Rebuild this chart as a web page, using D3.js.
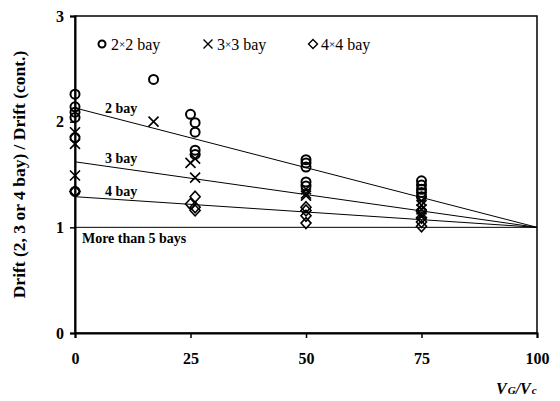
<!DOCTYPE html>
<html>
<head>
<meta charset="utf-8">
<script src="https://cdn.jsdelivr.net/npm/d3@7"></script>
<style>
  body { margin: 0; background: #fff; }
  text { font-family: "Liberation Serif", "Times New Roman", serif; }
</style>
</head>
<body>
<div id="chart"></div>
<script>
// set the dimensions and margins of the graph
const width = 560,
  height = 401,
  margin = { top: 16, right: 23, bottom: 68, left: 75 };

// data: [Vg/Vc, drift ratio]
const bay2 = [
  [0, 2.26], [0, 2.14], [0, 2.09], [0, 2.04], [0, 1.85], [0, 1.34],
  [17, 2.40],
  [25, 2.07], [26, 1.99], [26, 1.90], [26, 1.73], [26, 1.69],
  [50, 1.64], [50, 1.61], [50, 1.57], [50, 1.43], [50, 1.39],
  [75, 1.44], [75, 1.40], [75, 1.36], [75, 1.33], [75, 1.29]
];
const bay3 = [
  [0, 1.90], [0, 1.79], [0, 1.49],
  [17, 2.00],
  [25, 1.61], [26, 1.65], [26, 1.47],
  [50, 1.36], [50, 1.32], [50, 1.30],
  [75, 1.25], [75, 1.21], [75, 1.17], [75, 1.12]
];
const bay4 = [
  [0, 1.34],
  [25, 1.22], [26, 1.29], [26, 1.19], [26, 1.16],
  [50, 1.19], [50, 1.16], [50, 1.11], [50, 1.04],
  [75, 1.15], [75, 1.09], [75, 1.05], [75, 1.01]
];

// fitted lines: value at 0 and at 100
const fitLabels = ["2 bay", "3 bay", "4 bay", "More than 5 bays"];
const fitStart = [2.13, 1.62, 1.29, 1.0];
const fitEnd = [1.0, 1.0, 1.0, 1.0];

const xTicks = [0, 25, 50, 75, 100];
const yTicks = [0, 1, 2, 3];

const svg = d3.select("#chart")
  .append("svg")
  .attr("width", width)
  .attr("height", height);

const x = d3.scaleLinear().domain([0, 100]).range([margin.left, width - margin.right]);
const y = d3.scaleLinear().domain([0, 3]).range([height - margin.bottom, margin.top]);

// frame
svg.append("rect")
  .attr("x", x(0))
  .attr("y", y(3))
  .attr("width", x(100) - x(0))
  .attr("height", y(0) - y(3))
  .attr("fill", "none")
  .attr("stroke", "black")
  .attr("stroke-width", 1.5);

// axes
const xAxis = svg.append("g")
  .attr("transform", `translate(0,${y(0)})`)
  .call(d3.axisBottom(x).tickValues(xTicks).tickFormat(d3.format("d")).tickSize(5).tickPadding(15));
const yAxis = svg.append("g")
  .attr("transform", `translate(${x(0)},0)`)
  .call(d3.axisLeft(y).tickValues(yTicks).tickFormat(d3.format("d")).tickSize(5).tickPadding(6));

[xAxis, yAxis].forEach(g => {
  g.select(".domain").attr("stroke-width", 2);
  g.selectAll(".tick line").attr("stroke-width", 1.5);
  g.selectAll("text")
    .style("font-family", "'Liberation Serif', serif")
    .style("font-size", "16px")
    .style("font-weight", "bold")
    .attr("fill", "black");
});

// fitted lines
const fits = fitLabels.map((l, i) => ({ label: l, a: fitStart[i], b: fitEnd[i] }));
const fitAt = (d, v) => d.a + (d.b - d.a) * v / 100;
svg.selectAll("line.fit")
  .data(fits)
  .join("line")
  .attr("class", "fit")
  .attr("x1", x(0))
  .attr("y1", d => y(d.a))
  .attr("x2", x(100))
  .attr("y2", d => y(d.b))
  .attr("stroke", "black")
  .attr("stroke-width", 1);

svg.selectAll("text.fitlabel")
  .data(fits)
  .join("text")
  .attr("class", "fitlabel")
  .attr("x", (d, i) => i === 3 ? x(1.5) : x(6.5))
  .attr("y", (d, i) => i === 3 ? y(d.a) + 16 : y(fitAt(d, 6.5)) - 3)
  .text(d => d.label)
  .style("font-size", "14px")
  .style("font-weight", "bold");

// markers
svg.selectAll("circle.b2")
  .data(bay2)
  .join("circle")
  .attr("class", "b2")
  .attr("cx", d => x(d[0]))
  .attr("cy", d => y(d[1]))
  .attr("r", 4.5)
  .attr("fill", "none")
  .attr("stroke", "black")
  .attr("stroke-width", 2);

svg.selectAll("path.b3")
  .data(bay3)
  .join("path")
  .attr("class", "b3")
  .attr("transform", d => `translate(${x(d[0])},${y(d[1])})`)
  .attr("d", "M-5,-5L5,5M-5,5L5,-5")
  .attr("fill", "none")
  .attr("stroke", "black")
  .attr("stroke-width", 1.6);

svg.selectAll("path.b4")
  .data(bay4)
  .join("path")
  .attr("class", "b4")
  .attr("transform", d => `translate(${x(d[0])},${y(d[1])})`)
  .attr("d", "M0,-5.5L5,0L0,5.5L-5,0Z")
  .attr("fill", "none")
  .attr("stroke", "black")
  .attr("stroke-width", 1.6);

// legend
const legend = svg.append("g").attr("transform", `translate(0,${y(3) + 28})`);
legend.append("circle").attr("cx", 102).attr("cy", 0).attr("r", 3.5)
  .attr("fill", "none").attr("stroke", "black").attr("stroke-width", 2);
legend.append("path").attr("transform", "translate(208,0)")
  .attr("d", "M-4.5,-4.5L4.5,4.5M-4.5,4.5L4.5,-4.5")
  .attr("stroke", "black").attr("stroke-width", 1.4);
legend.append("path").attr("transform", "translate(313,0)")
  .attr("d", "M0,-4.5L4.5,0L0,4.5L-4.5,0Z")
  .attr("fill", "none").attr("stroke", "black").attr("stroke-width", 1.4);
const legendNames = [["2", "2 bay", 111], ["3", "3 bay", 217], ["4", "4 bay", 321]];
legendNames.forEach(([n, rest, lx]) => {
  const t = legend.append("text")
    .attr("x", lx)
    .attr("y", 6)
    .style("font-size", "16px");
  t.append("tspan").text(n);
  t.append("tspan").style("font-size", "11px").attr("dy", -2).text("\u00d7");
  t.append("tspan").attr("dy", 2).text(rest);
});

// axis titles
svg.append("text")
  .attr("transform", `translate(25,${(y(0) + y(3)) / 2}) rotate(-90)`)
  .attr("text-anchor", "middle")
  .style("font-size", "17.5px")
  .style("font-weight", "bold")
  .text("Drift (2, 3 or 4 bay) / Drift (cont.)");

const xt = svg.append("text")
  .attr("x", x(100) - 41)
  .attr("y", 394)
  .style("font-size", "16px")
  .style("font-weight", "bold")
  .style("font-style", "italic");
xt.append("tspan").text("V");
xt.append("tspan").attr("dx", 1).style("font-size", "11px").text("G");
xt.append("tspan").text("/V");
xt.append("tspan").attr("dx", 1).style("font-size", "11px").text("c");
</script>
</body>
</html>
